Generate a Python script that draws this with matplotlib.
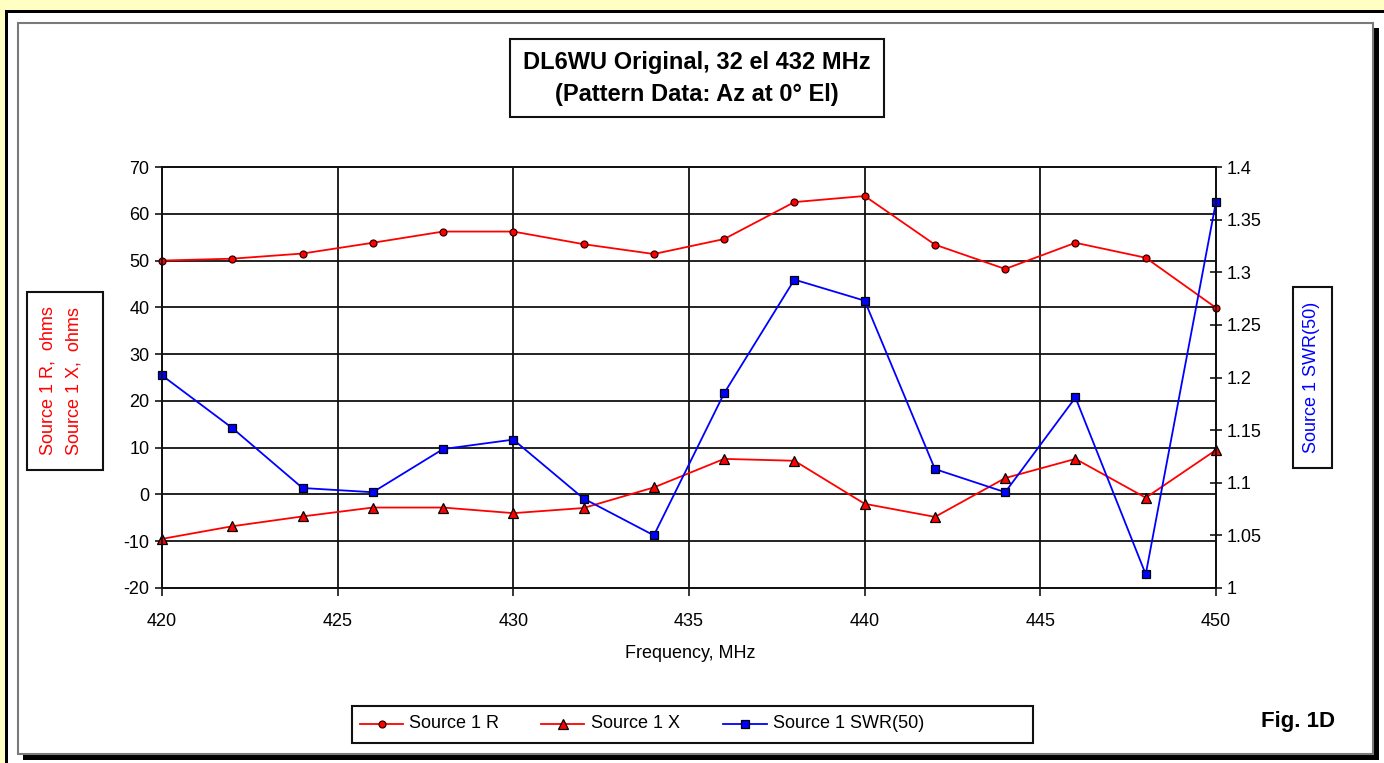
import matplotlib
matplotlib.use('Agg')
import matplotlib.pyplot as plt
from matplotlib.patches import Rectangle
from matplotlib.lines import Line2D
from matplotlib.ticker import MultipleLocator, FuncFormatter

plt.rcParams['font.family'] = ['Liberation Sans', 'DejaVu Sans']
plt.rcParams['axes.unicode_minus'] = False

# ---- data ----
freq = [420, 422, 424, 426, 428, 430, 432, 434, 436, 438, 440, 442, 444, 446, 448, 450]
source_r = [50.0, 50.4, 51.5, 53.8, 56.2, 56.2, 53.5, 51.4, 54.6, 62.5, 63.8, 53.4, 48.2, 53.8, 50.6, 39.9]
source_x = [-9.5, -6.8, -4.7, -2.8, -2.8, -4.0, -2.9, 1.5, 7.6, 7.2, -2.0, -4.8, 3.5, 7.6, -0.7, 9.5]
swr50 = [1.202, 1.152, 1.095, 1.091, 1.132, 1.141, 1.085, 1.050, 1.185, 1.293, 1.273, 1.113, 1.091, 1.181, 1.013, 1.367]

title_lines = ['DL6WU Original, 32 el 432 MHz', '(Pattern Data: Az at 0\u00b0 El)']
x_label = 'Frequency, MHz'
left_labels = ['Source 1 R,  ohms', 'Source 1 X,  ohms']
right_label = 'Source 1 SWR(50)'
series_names = ['Source 1 R', 'Source 1 X', 'Source 1 SWR(50)']
fig_tag = 'Fig. 1D'

W, H = 1384, 763
fig = plt.figure(figsize=(W / 100, H / 100), dpi=100)
fig.patch.set_facecolor('white')


def fx(px):
    return px / W


def fy(py):
    return 1 - py / H


def prect(x0, y0, x1, y1, **kw):
    r = Rectangle((fx(x0), fy(y1)), fx(x1) - fx(x0), fy(y0) - fy(y1),
                  transform=fig.transFigure, **kw)
    fig.patches.append(r)
    return r


# background frame
prect(0, 0, W, H, facecolor='#FFFFC4', edgecolor='none', zorder=-20)
prect(5, 10, W, H, facecolor='black', edgecolor='none', zorder=-19)
prect(8, 13, W, H, facecolor='white', edgecolor='none', zorder=-18)
prect(23, 28, 1379, 760, facecolor='black', edgecolor='none', zorder=-17)
prect(18, 23, 1373, 754, facecolor='white', edgecolor='#7a7a7a', linewidth=1.5, zorder=-16)

# axes
ax = fig.add_axes([fx(162), fy(588), fx(1216) - fx(162), (588 - 167) / H])
ax.set_facecolor('white')
ax.set_xlim(420, 450)
ax.set_ylim(-20, 70)
ax.xaxis.set_major_locator(MultipleLocator(5))
ax.yaxis.set_major_locator(MultipleLocator(10))
ax.set_axisbelow(True)
ax.grid(True, color='#111111', linewidth=1.3)
for s in ax.spines.values():
    s.set_color('#111111')
    s.set_linewidth(1.3)
ax.tick_params(axis='y', direction='out', length=5, width=1.1, pad=4, labelsize=13)
ax.tick_params(axis='x', direction='out', length=6, width=1.1, pad=12, labelsize=13)

ax2 = ax.twinx()
ax2.set_ylim(1, 1.4)
ax2.yaxis.set_major_locator(MultipleLocator(0.05))
ax2.yaxis.set_major_formatter(FuncFormatter(lambda v, p: '%g' % round(v, 2)))
ax2.tick_params(axis='y', direction='inout', length=8, width=1.1, pad=4, labelsize=13)
for s in ax2.spines.values():
    s.set_color('#111111')
    s.set_linewidth(1.3)

r_style = dict(color='#FF0000', linewidth=1.3, marker='o', markersize=5,
               markerfacecolor='#FF0000', markeredgecolor='#300000', markeredgewidth=0.9)
x_style = dict(color='#FF0000', linewidth=1.3, marker='^', markersize=6.5,
               markerfacecolor='#FF0000', markeredgecolor='black', markeredgewidth=0.9)
s_style = dict(color='#0000FF', linewidth=1.3, marker='s', markersize=5.5,
               markerfacecolor='#0000FF', markeredgecolor='black', markeredgewidth=0.9)

ax.plot(freq, source_r, clip_on=False, **r_style)
ax.plot(freq, source_x, clip_on=False, **x_style)
ax2.plot(freq, swr50, clip_on=False, **s_style)

# title box
prect(510, 39, 884, 117, facecolor='white', edgecolor='#111111', linewidth=1.5, zorder=1)
fig.text(fx(697), fy(62), title_lines[0], ha='center', va='center', fontsize=17, weight='bold', zorder=3)
fig.text(fx(697), fy(95), title_lines[1], ha='center', va='center', fontsize=17, weight='bold', zorder=3)

# axis labels
fig.text(fx(690), fy(654), x_label, ha='center', va='center', fontsize=13)
prect(27, 292, 103, 470, facecolor='white', edgecolor='#111111', linewidth=1.5, zorder=1)
fig.text(fx(48), fy(381), left_labels[0], rotation=90, ha='center', va='center',
         fontsize=13, color='#FF0000', zorder=3)
fig.text(fx(74), fy(381), left_labels[1], rotation=90, ha='center', va='center',
         fontsize=13, color='#FF0000', zorder=3)
prect(1293, 287, 1332, 468, facecolor='white', edgecolor='#111111', linewidth=1.5, zorder=1)
fig.text(fx(1312), fy(377), right_label, rotation=90, ha='center', va='center',
         fontsize=13, color='#0000FF', zorder=3)

# legend
prect(352, 706, 1033, 743, facecolor='white', edgecolor='#111111', linewidth=1.5, zorder=1)
ly = 724
for (x0, x1, tx), name, st in zip([(360, 403, 409), (541, 584, 591), (723, 767, 773)],
                                  series_names, [r_style, x_style, s_style]):
    fig.lines.append(Line2D([fx(x0), fx(x1)], [fy(ly), fy(ly)], transform=fig.transFigure,
                            color=st['color'], linewidth=st['linewidth'], zorder=3))
    fig.lines.append(Line2D([fx((x0 + x1) / 2)], [fy(ly)], transform=fig.transFigure,
                            linestyle='none', marker=st['marker'], markersize=st['markersize'],
                            markerfacecolor=st['markerfacecolor'],
                            markeredgecolor=st['markeredgecolor'],
                            markeredgewidth=st['markeredgewidth'], zorder=4))
    fig.text(fx(tx), fy(ly), name, ha='left', va='center', fontsize=13, zorder=3)

fig.text(fx(1298), fy(722), fig_tag, ha='center', va='center', fontsize=16, weight='bold')

fig.savefig('out.png', dpi=100, facecolor=fig.get_facecolor())
